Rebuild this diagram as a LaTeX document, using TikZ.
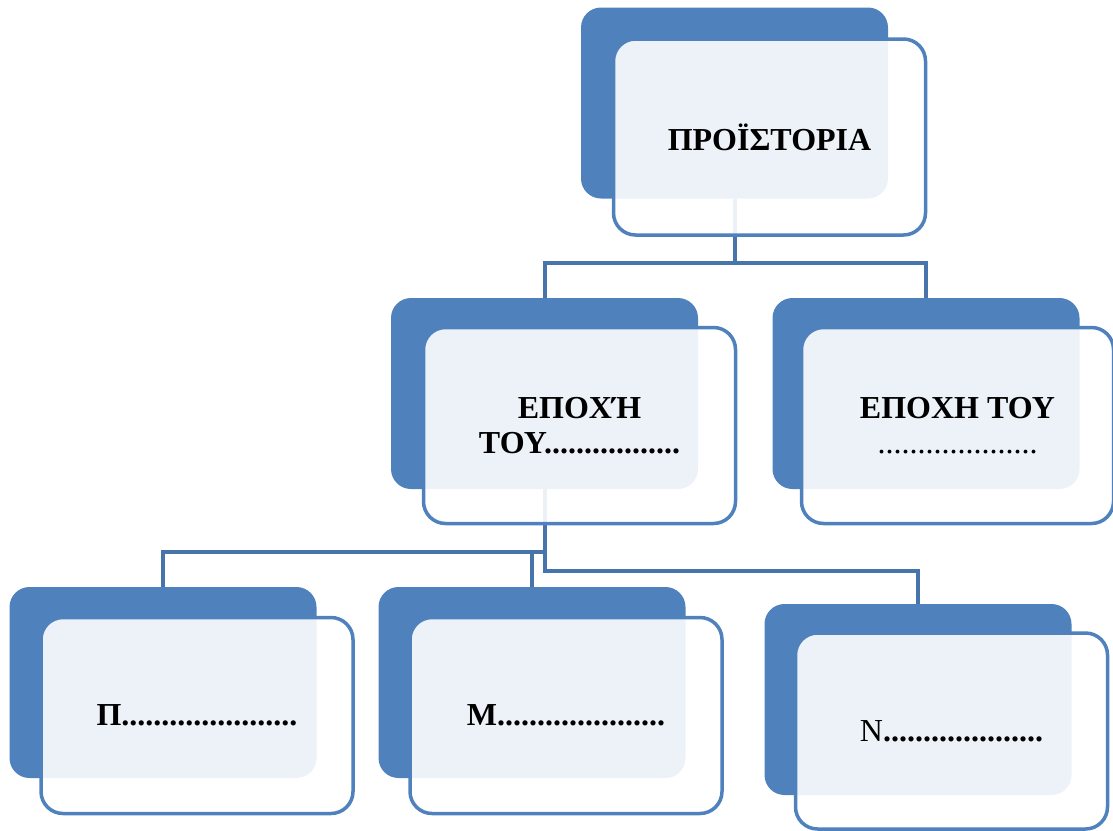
\documentclass[tikz,border=0pt]{standalone}
\usepackage{fontspec}
\setmainfont{Liberation Serif}
\definecolor{boxblue}{HTML}{4F81BD}
\definecolor{connblue}{HTML}{4674AB}
\begin{document}
\begin{tikzpicture}[x=1pt,y=-1pt,
  backbox/.style={fill=boxblue, draw=none, rounded corners=20pt, inner sep=0pt,
    minimum width=307pt, minimum height=191pt},
  frontbox/.style={fill=white, fill opacity=0.9, text opacity=1, draw=boxblue,
    line width=3.5pt, rounded corners=22pt, inner sep=0pt,
    minimum width=312pt, minimum height=196pt, align=center,
    font=\fontsize{32}{35}\selectfont\bfseries},
  conn/.style={draw=connblue, line width=4pt}]
\useasboundingbox (0,0) rectangle (1113,830);
\clip (0,0) rectangle (1113,830);
% back boxes
\node[backbox] (topb) at (734.5,103) {};
\node[backbox] (mlb) at (544.5,393.5) {};
\node[backbox] (mrb) at (926,393.5) {};
\node[backbox] (pb) at (163,682.5) {};
\node[backbox] (mb) at (532,682.5) {};
\node[backbox] (nb) at (918,699.5) {};
% connectors
\draw[conn] (topb.south) -- ++(0,64) -| (mlb.north);
\draw[conn] (topb.south) -- ++(0,64) -| (mrb.north);
\draw[conn] (mlb.south) -- ++(0,63) -| (pb.north);
\draw[conn] (mlb.south) -- ++(0,63) -| (mb.north);
\draw[conn] (mlb.south) -- ++(0,82) -| (nb.north);
% front boxes
\node[frontbox] (top) at (769.5,137) {ΠΡΟΪΣΤΟΡΙΑ};
\node[frontbox] (ml) at (579.5,425.5) {ΕΠΟΧΉ\\ΤΟΥ.................};
\node[frontbox] (mr) at (957.5,425.5) {ΕΠΟΧΗ ΤΟΥ\\{\mdseries ....................}};
\node[frontbox] (p) at (197,715.5) {Π......................};
\node[frontbox] (m) at (566,715.5) {Μ.....................};
\node[frontbox] (n) at (951.5,731) {{\mdseries Ν}....................};
\end{tikzpicture}
\end{document}
